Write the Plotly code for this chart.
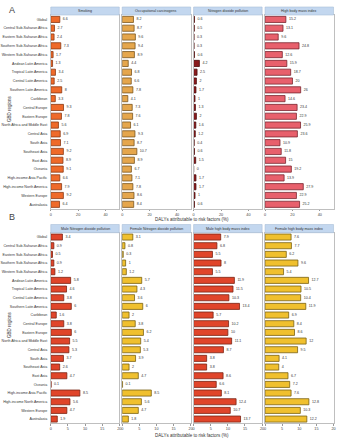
import plotly.graph_objects as go

regions = ["Global", "Central Sub-Saharan Africa", "Eastern Sub-Saharan Africa",
           "Southern Sub-Saharan Africa", "Western Sub-Saharan Africa", "Andean Latin America",
           "Tropical Latin America", "Central Latin America", "Southern Latin America", "Caribbean",
           "Central Europe", "Eastern Europe", "North Africa and Middle East", "Central Asia",
           "South Asia", "Southeast Asia", "East Asia", "Oceania", "High-income Asia Pacific",
           "High-income North America", "Western Europe", "Australasia"]

# Panel A
smoking = [6.6, 2.7, 2.4, 7.3, 1.7, 1.3, 3.4, 2.5, 8, 3.3, 9.3, 7.8, 5.6, 6.9, 7.1, 9.2, 8.9, 9.1, 6.6, 7.9, 9.2, 6.4]
occupational = [8.2, 8.7, 9.6, 9.4, 8.9, 4.4, 6.8, 6.6, 7.8, 4.1, 7.3, 7.6, 6.1, 9.3, 8.7, 10.7, 8.9, 6.7, 7.1, 7.8, 8.6, 8.4]
no2 = [0.6, 0.5, 0.3, 0.3, 0.6, 4.2, 2.5, 2, 1.7, 1, 1.3, 2, 1.6, 1.2, 0.4, 0.6, 1.5, 0, 1.7, 1.7, 1, 0.6]
bmi = [15.2, 13.1, 9.6, 24.8, 12.6, 15.9, 18.7, 20, 26, 14.6, 23.4, 22.9, 25.9, 23.6, 10.9, 11.8, 15, 19.2, 13.9, 27.9, 22.9, 25.2]

# Panel B
male_no2 = [3.4, 0.9, 0.5, 0.9, 1.2, 5.8, 4.6, 3.8, 6, 1.6, 3.8, 6, 5.5, 5.3, 3.7, 2.6, 4.7, 0.1, 8.5, 5.6, 4.7, 1.9]
female_no2 = [3.1, 0.8, 0.3, 1, 1.2, 5.7, 4.3, 3.6, 6, 2, 3.8, 6.2, 5.4, 5.3, 3.9, 2, 4.7, 0.1, 8.5, 5.6, 4.7, 1.8]
male_bmi = [7.9, 6.8, 5.5, 8, 5.5, 11.9, 11.5, 10.3, 13.4, 5.7, 10.2, 10, 11.1, 8.7, 3.8, 3.8, 8.6, 6.6, 8.1, 12.4, 10.7, 13.7]
female_bmi = [7.6, 7.7, 6.2, 9.6, 5.4, 12.7, 10.5, 10.4, 11.9, 6.9, 8.4, 8.6, 12.0, 9.5, 4.1, 4, 6.7, 7.2, 7.6, 12.8, 10.3, 12.2]

titles_a = ["Smoking", "Occupational carcinogens", "Nitrogen dioxide pollution", "High body mass index"]
titles_b = ["Male Nitrogen dioxide pollution", "Female Nitrogen dioxide pollution",
            "Male high body mass index", "Female high body mass index"]
ticks_a = [0, 20, 40]
ticks_b = [0, 5, 10, 15, 20]
xtitle = "DALYs attributable to risk factors (%)"
ytitle = "GBD regions"

W, H = 338, 440
def fx(p): return p / W
def fy(p): return 1 - p / H

cols_px = [(48.5, 118), (121, 190.5), (193.5, 263), (266, 335.5)]
panels = [
    dict(series=[smoking, occupational, no2, bmi], titles=titles_a,
         colors=["#EF6A2A", "#E5A64C", "#8A1C1E", "#E8606C"],
         lines=["#8A3A14", "#7A5520", "#4A0C0C", "#7A2630"],
         ytop=15, ybot=208.7, htop=7, rng=[0, 50], ticks=ticks_a,
         title_y=219.5, label="A", label_y=10, ylab_y=108),
    dict(series=[male_no2, female_no2, male_bmi, female_bmi], titles=titles_b,
         colors=["#E0452A", "#F0C02E", "#E0452A", "#F0C02E"],
         lines=["#7A2414", "#7A6214", "#7A2414", "#7A6214"],
         ytop=232.7, ybot=423.4, htop=224.5, rng=[0, 20], ticks=ticks_b,
         title_y=435.5, label="B", label_y=217, ylab_y=324),
]

fig = go.Figure()
shapes, annotations = [], []
layout = {}
k = 0
for pi, P in enumerate(panels):
    for ci in range(4):
        k += 1
        xa = "x" if k == 1 else f"x{k}"
        ya = "y" if k == 1 else f"y{k}"
        vals = P["series"][ci]
        fig.add_trace(go.Bar(
            x=vals, y=regions, orientation="h", xaxis=xa, yaxis=ya,
            marker=dict(color=P["colors"][ci], line=dict(color=P["lines"][ci], width=0.8)),
            width=0.7, text=[f"{v:g}" for v in vals], textposition="outside",
            textfont=dict(size=3.6, color="#333333", family="Liberation Sans"),
            constraintext="none", cliponaxis=False, showlegend=False,
            hoverinfo="skip"))
        x0, x1 = cols_px[ci]
        layout["xaxis" if k == 1 else f"xaxis{k}"] = dict(
            domain=[fx(x0), fx(x1)], anchor=ya, range=P["rng"], tickvals=P["ticks"],
            showgrid=False, zeroline=False, showline=True, linecolor="#bfbfbf", linewidth=0.8,
            mirror=True, ticks="outside", ticklen=1.5, tickwidth=0.6, tickcolor="#999999",
            tickfont=dict(size=3.8, color="#444444"), fixedrange=True)
        layout["yaxis" if k == 1 else f"yaxis{k}"] = dict(
            domain=[fy(P["ybot"]), fy(P["ytop"])], anchor=xa, type="category",
            categoryorder="array", categoryarray=regions, range=[21.5, -0.5],
            showgrid=False, zeroline=False, showline=True, linecolor="#bfbfbf", linewidth=0.8,
            mirror=True, ticks="", showticklabels=(ci == 0), ticklabelstandoff=2,
            tickfont=dict(size=3.6, color="#333333"), fixedrange=True)
        # header strip
        shapes.append(dict(type="rect", xref="paper", yref="paper",
                           x0=fx(x0), x1=fx(x1), y0=fy(P["ytop"]), y1=fy(P["htop"]),
                           fillcolor="#C3D7EF", line=dict(color="#A9BFD9", width=0.6)))
        annotations.append(dict(xref="paper", yref="paper", x=fx((x0 + x1) / 2),
                                y=fy((P["ytop"] + P["htop"]) / 2), text=P["titles"][ci],
                                showarrow=False, font=dict(size=3.6, color="#333333"),
                                xanchor="center", yanchor="middle"))
    annotations.append(dict(xref="paper", yref="paper", x=fx(192), y=fy(P["title_y"]),
                            text=xtitle, showarrow=False, font=dict(size=4.5, color="#333333"),
                            xanchor="center", yanchor="middle"))
    annotations.append(dict(xref="paper", yref="paper", x=fx(6), y=fy(P["ylab_y"]),
                            text=ytitle, showarrow=False, textangle=-90,
                            font=dict(size=4.5, color="#333333"), xanchor="center", yanchor="middle"))
    annotations.append(dict(xref="paper", yref="paper", x=fx(4), y=fy(P["label_y"]),
                            text=P["label"], showarrow=False,
                            font=dict(size=9, color="#444444", family="Liberation Sans"),
                            xanchor="left", yanchor="middle"))

fig.update_layout(width=W, height=H, margin=dict(l=0, r=0, t=0, b=0),
                  paper_bgcolor="white", plot_bgcolor="white",
                  font=dict(family="Liberation Sans", color="#333333"),
                  shapes=shapes, annotations=annotations, bargap=0.3, **layout)
fig.write_html("out.html")
